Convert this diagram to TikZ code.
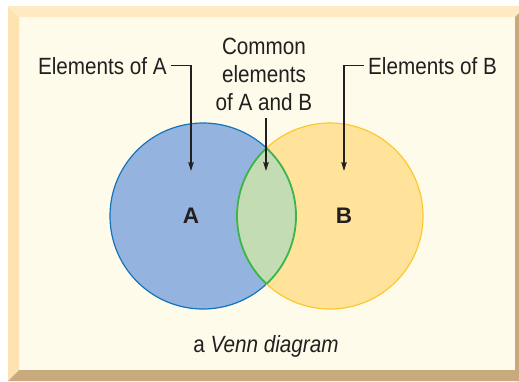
\documentclass[tikz,border=0pt]{standalone}
\usepackage{fontspec}
\setmainfont[FakeStretch=0.88]{Liberation Sans}
\newfontfamily\labfont{Liberation Sans}
\usetikzlibrary{arrows.meta}
\definecolor{panel}{HTML}{FFFBEA}
\definecolor{bevtop}{HTML}{FFEAC3}
\definecolor{bevleft}{HTML}{FEE3B2}
\definecolor{tanc}{HTML}{C9AA7F}
\definecolor{bluefill}{HTML}{94B3DE}
\definecolor{blueedge}{HTML}{1275BC}
\definecolor{yelfill}{HTML}{FFE39B}
\definecolor{yeledge}{HTML}{FDC82F}
\definecolor{grnfill}{HTML}{C4DCB3}
\definecolor{grnedge}{HTML}{3AB54A}
\definecolor{ink}{HTML}{231F20}
\begin{document}
\begin{tikzpicture}[x=1pt,y=-1pt,
  txt/.style={inner sep=0pt, text=ink, font=\fontsize{23.5}{28}\selectfont},
  setlab/.style={inner sep=0pt, text=ink, font=\labfont\bfseries\fontsize{22.5}{22.5}\selectfont},
  arr/.style={draw=ink, line width=1.3pt, -{Stealth[length=9pt,width=5.5pt,inset=1.5pt]}},
  edge/.style={line width=1.2pt}]
\useasboundingbox (0,0) rectangle (519,381);
% frame
\fill[panel] (19,17) rectangle (515,370);
\fill[bevtop] (8,6) -- (519,6) -- (519,13) -- (515,17) -- (19,17) -- cycle;
\fill[bevleft] (8,6) -- (19,17) -- (19,370) -- (8,381) -- cycle;
\fill[tanc] (519,13) -- (519,381) -- (515,381) -- (515,17) -- cycle;
\fill[tanc] (8,381) -- (519,381) -- (519,370) -- (19,370) -- cycle;
% circles
\coordinate (ca) at (203,216);
\coordinate (cb) at (330,216);
\fill[bluefill] (ca) circle[radius=93pt];
\draw[blueedge,edge] (ca) circle[radius=93pt];
\fill[yelfill] (cb) circle[radius=93pt];
\draw[yeledge,edge] (cb) circle[radius=93pt];
\begin{scope}
  \clip (ca) circle[radius=93pt];
  \fill[grnfill] (cb) circle[radius=93pt];
  \draw[grnedge,line width=1.8pt] (cb) circle[radius=93pt];
\end{scope}
\begin{scope}
  \clip (cb) circle[radius=93pt];
  \draw[grnedge,line width=1.8pt] (ca) circle[radius=93pt];
\end{scope}
% labels
\node[setlab, anchor=base] (na) at (191,223) {A};
\node[setlab, anchor=base] (nb) at (344,223) {B};
\node[txt, anchor=base east] (la) at (167,74) {Elements of A};
\node[txt, anchor=base west] (lb) at (368,74) {Elements of B};
\node[txt, align=center, anchor=north] (lc) at (264,38) {Common\\elements\\of A and B};
\node[txt, anchor=base] (cap) at (266,352) {a \textit{Venn diagram}};
% connectors
\coordinate (ta) at (191,171);
\coordinate (tb) at (344,171);
\coordinate (tc) at (266,171);
\coordinate (cs) at (lc.south -| tc);
\draw[arr] ([xshift=4pt]la.east) -| (ta);
\draw[arr] ([xshift=-4pt]lb.west) -| (tb);
\draw[arr] ([yshift=-7pt]cs) -- (tc);
\end{tikzpicture}
\end{document}
